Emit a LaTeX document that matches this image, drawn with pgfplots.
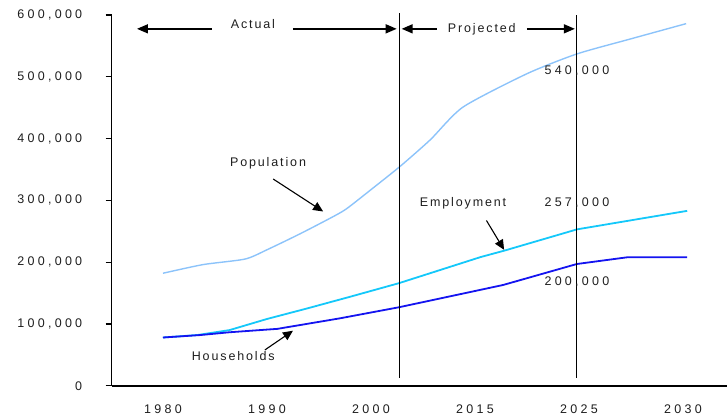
\documentclass[border=0pt]{standalone}
\usepackage{fontspec}
\setmainfont{Liberation Sans}
\newfontfamily\numfont[LetterSpace=26]{Liberation Sans}
\newfontfamily\txtfont[LetterSpace=15]{Liberation Sans}
\usepackage{pgfplots}
\pgfplotsset{compat=1.18}
\usetikzlibrary{arrows.meta}

\definecolor{popc}{RGB}{140,195,250}
\definecolor{empc}{RGB}{20,200,250}
\definecolor{hhc}{RGB}{20,20,240}
\definecolor{txtc}{RGB}{30,30,30}

\newcommand{\numsz}{\numfont\fontsize{12.5bp}{14bp}\selectfont}
\newcommand{\txtsz}{\txtfont\fontsize{12.5bp}{14bp}\selectfont}

\begin{document}
\begin{tikzpicture}
\begin{axis}[
  name=ax,
  scale only axis,
  width=615.3bp, height=370.7bp,
  xmin=-0.493, xmax=5.423,
  ymin=0, ymax=600000,
  axis x line*=bottom, axis y line*=left,
  axis line style={line width=1.6bp, black},
  xtick={0,1,2,3,4,5},
  xticklabels={1980,1990,2000,2015,2025,2030},
  x tick style={draw=none},
  ytick={0,100000,200000,300000,400000,500000,600000},
  yticklabels={0,{100,000},{200,000},{300,000},{400,000},{500,000},{600,000}},
  scaled y ticks=false,
  y tick style={line width=1.2bp, black},
  tick align=outside,
  major tick length=6bp,
  tick label style={font=\numsz, text=txtc},
  yticklabel style={xshift=-20bp},
  xticklabel style={yshift=-10bp},
  clip=false,
]
% population
\addplot[popc, line width=1.4bp, smooth, tension=0.4] coordinates {
  (0,182000) (0.385,196000) (0.79,205000) (1.0,220000) (1.32,246000)
  (1.64,274000) (1.77,287000) (2.02,320000) (2.28,355000) (2.57,398000)
  (2.885,451000) (3.5,505000) (3.98,537000) (4.49,561000) (5.03,586000)
};
% employment
\addplot[empc, line width=1.8bp] coordinates {
  (0,78000) (0.33,82000) (0.64,90000) (1.0,108000) (1.385,125000)
  (1.8,144000) (2.27,166000) (3.05,208000) (3.29,219000) (3.98,253000)
  (5.04,283000)
};
% households
\addplot[hhc, line width=1.8bp] coordinates {
  (0,78000) (0.36,82000) (0.64,86500) (1.1,92000) (1.7,109000)
  (2.27,127000) (3.27,163000) (3.98,197000) (4.47,208000) (5.04,208000)
};

% actual / projected dividers
\draw[black, line width=1.4bp] (axis cs:2.272,13000) -- (axis cs:2.272,603000);
\draw[black, line width=1.4bp] (axis cs:3.978,13000) -- (axis cs:3.978,600000);

\draw[line width=1.5bp, -{Triangle[length=11bp,width=9bp]}] (axis cs:0.47,577600) -- (axis cs:-0.25,577600);
\draw[line width=1.5bp, -{Triangle[length=11bp,width=9bp]}] (axis cs:1.25,577600) -- (axis cs:2.247,577600);
\node[font=\txtsz, text=txtc] at (axis cs:0.865,584600) {Actual};
\draw[line width=1.5bp, -{Triangle[length=11bp,width=9bp]}] (axis cs:2.63,577600) -- (axis cs:2.295,577600);
\draw[line width=1.5bp, -{Triangle[length=11bp,width=9bp]}] (axis cs:3.50,577600) -- (axis cs:3.96,577600);
\node[font=\txtsz, text=txtc] at (axis cs:3.065,577600) {Projected};

% series labels
\node[font=\txtsz, text=txtc] at (axis cs:1.01,360000) {Population};
\draw[line width=1.1bp, -{Triangle[length=10bp,width=9bp]}] (axis cs:1.06,334500) -- (axis cs:1.54,282000);
\node[font=\txtsz, text=txtc] at (axis cs:2.885,295600) {Employment};
\draw[line width=1.1bp, -{Triangle[length=10bp,width=9bp]}] (axis cs:3.11,267400) -- (axis cs:3.28,219900);
\node[font=\txtsz, text=txtc] at (axis cs:0.676,48000) {Households};
\draw[line width=1.1bp, -{Triangle[length=10bp,width=9bp]}] (axis cs:0.98,57900) -- (axis cs:1.25,89000);

% value labels
\node[font=\numsz, text=txtc] at (axis cs:3.98,510000) {540,000};
\node[font=\numsz, text=txtc] at (axis cs:3.98,295600) {257,000};
\node[font=\numsz, text=txtc] at (axis cs:3.98,168600) {200,000};
\end{axis}
\pgfresetboundingbox
\path ([shift={(-111.7bp,-33.3bp)}]ax.south west) rectangle ([shift={(0bp,15bp)}]ax.north east);
\end{tikzpicture}
\end{document}
